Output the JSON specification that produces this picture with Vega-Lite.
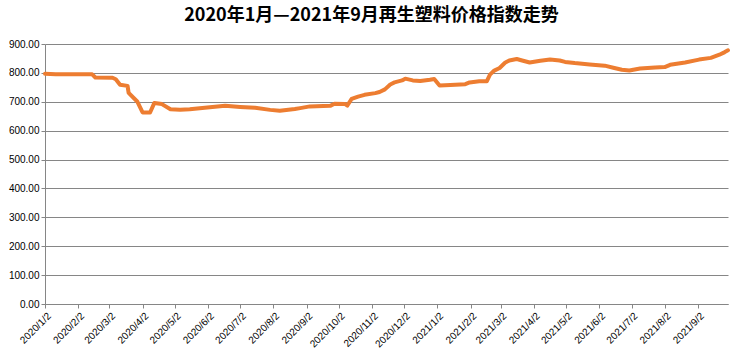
{
  "$schema": "https://vega.github.io/schema/vega-lite/v6.json",
  "autosize": "none",
  "padding": {"left": 45, "top": 44, "right": 13, "bottom": 57},
  "width": 683,
  "height": 260,
  "background": "white",
  "title": {
    "text": "2020年1月—2021年9月再生塑料价格指数走势",
    "font": "Noto Sans CJK SC",
    "fontSize": 18,
    "fontWeight": "bold",
    "color": "black",
    "anchor": "middle",
    "dx": -15,
    "offset": 14
  },
  "config": {
    "view": {"stroke": null},
    "axis": {
      "labelFont": "Liberation Sans",
      "labelFontSize": 10,
      "labelColor": "black",
      "domainColor": "#868686",
      "tickColor": "#868686",
      "gridColor": "#868686",
      "title": null
    }
  },
  "data": {
    "values": [
      {"date": "2020/01/02", "v": 797},
      {"date": "2020/01/12", "v": 795},
      {"date": "2020/02/15", "v": 795},
      {"date": "2020/02/18", "v": 784},
      {"date": "2020/03/05", "v": 783},
      {"date": "2020/03/08", "v": 778},
      {"date": "2020/03/12", "v": 759},
      {"date": "2020/03/19", "v": 755},
      {"date": "2020/03/20", "v": 731},
      {"date": "2020/03/28", "v": 701},
      {"date": "2020/04/02", "v": 663},
      {"date": "2020/04/09", "v": 663},
      {"date": "2020/04/13", "v": 696},
      {"date": "2020/04/20", "v": 692},
      {"date": "2020/04/28", "v": 674},
      {"date": "2020/05/07", "v": 672},
      {"date": "2020/05/16", "v": 674},
      {"date": "2020/05/30", "v": 679},
      {"date": "2020/06/18", "v": 686},
      {"date": "2020/07/02", "v": 682},
      {"date": "2020/07/16", "v": 679},
      {"date": "2020/07/30", "v": 672},
      {"date": "2020/08/08", "v": 669},
      {"date": "2020/08/22", "v": 675},
      {"date": "2020/08/27", "v": 678},
      {"date": "2020/09/05", "v": 684},
      {"date": "2020/09/24", "v": 686},
      {"date": "2020/09/28", "v": 693},
      {"date": "2020/10/08", "v": 692},
      {"date": "2020/10/10", "v": 687},
      {"date": "2020/10/14", "v": 710},
      {"date": "2020/10/20", "v": 718},
      {"date": "2020/10/26", "v": 724},
      {"date": "2020/11/05", "v": 730},
      {"date": "2020/11/09", "v": 734},
      {"date": "2020/11/14", "v": 743},
      {"date": "2020/11/19", "v": 760},
      {"date": "2020/11/23", "v": 767},
      {"date": "2020/11/30", "v": 774},
      {"date": "2020/12/03", "v": 780},
      {"date": "2020/12/10", "v": 774},
      {"date": "2020/12/17", "v": 772},
      {"date": "2020/12/26", "v": 776},
      {"date": "2020/12/30", "v": 779},
      {"date": "2021/01/04", "v": 756},
      {"date": "2021/01/14", "v": 758},
      {"date": "2021/01/28", "v": 761},
      {"date": "2021/02/01", "v": 767},
      {"date": "2021/02/10", "v": 771},
      {"date": "2021/02/17", "v": 771},
      {"date": "2021/02/20", "v": 794},
      {"date": "2021/02/24", "v": 808},
      {"date": "2021/03/01", "v": 817},
      {"date": "2021/03/06", "v": 835},
      {"date": "2021/03/10", "v": 843},
      {"date": "2021/03/17", "v": 848},
      {"date": "2021/03/22", "v": 843},
      {"date": "2021/03/29", "v": 836},
      {"date": "2021/04/08", "v": 842},
      {"date": "2021/04/17", "v": 846},
      {"date": "2021/04/26", "v": 843},
      {"date": "2021/05/01", "v": 838},
      {"date": "2021/05/10", "v": 834},
      {"date": "2021/05/24", "v": 829},
      {"date": "2021/06/07", "v": 825},
      {"date": "2021/06/16", "v": 817},
      {"date": "2021/06/23", "v": 811},
      {"date": "2021/06/30", "v": 808},
      {"date": "2021/07/10", "v": 815},
      {"date": "2021/07/24", "v": 819},
      {"date": "2021/08/02", "v": 820},
      {"date": "2021/08/07", "v": 828},
      {"date": "2021/08/21", "v": 836},
      {"date": "2021/09/03", "v": 846},
      {"date": "2021/09/14", "v": 852},
      {"date": "2021/09/22", "v": 863},
      {"date": "2021/09/27", "v": 872},
      {"date": "2021/09/30", "v": 878}
    ]
  },
  "mark": {"type": "line", "color": "#ED7D31", "strokeWidth": 4, "strokeJoin": "round", "strokeCap": "round", "clip": false},
  "encoding": {
    "x": {
      "field": "date",
      "type": "temporal",
      "scale": {"nice": false, "domain": [{"year": 2020, "month": 1, "date": 2}, {"year": 2021, "month": 9, "date": 30}]},
      "axis": {
        "grid": false,
        "format": "%Y/%-m/%-d",
        "labelAngle": -45,
        "labelAlign": "right",
        "labelBaseline": "middle",
        "tickSize": 4,
        "labelPadding": 6,
        "labelOffset": 4,
        "labelOverlap": false,
        "values": [
          {"year": 2020, "month": 1, "date": 2},
          {"year": 2020, "month": 2, "date": 2},
          {"year": 2020, "month": 3, "date": 2},
          {"year": 2020, "month": 4, "date": 2},
          {"year": 2020, "month": 5, "date": 2},
          {"year": 2020, "month": 6, "date": 2},
          {"year": 2020, "month": 7, "date": 2},
          {"year": 2020, "month": 8, "date": 2},
          {"year": 2020, "month": 9, "date": 2},
          {"year": 2020, "month": 10, "date": 2},
          {"year": 2020, "month": 11, "date": 2},
          {"year": 2020, "month": 12, "date": 2},
          {"year": 2021, "month": 1, "date": 2},
          {"year": 2021, "month": 2, "date": 2},
          {"year": 2021, "month": 3, "date": 2},
          {"year": 2021, "month": 4, "date": 2},
          {"year": 2021, "month": 5, "date": 2},
          {"year": 2021, "month": 6, "date": 2},
          {"year": 2021, "month": 7, "date": 2},
          {"year": 2021, "month": 8, "date": 2},
          {"year": 2021, "month": 9, "date": 2}
        ]
      }
    },
    "y": {
      "field": "v",
      "type": "quantitative",
      "scale": {"domain": [0, 900], "nice": false},
      "axis": {
        "values": [0, 100, 200, 300, 400, 500, 600, 700, 800, 900],
        "format": ".2f",
        "grid": true,
        "tickSize": 4,
        "labelPadding": 2
      }
    }
  }
}
